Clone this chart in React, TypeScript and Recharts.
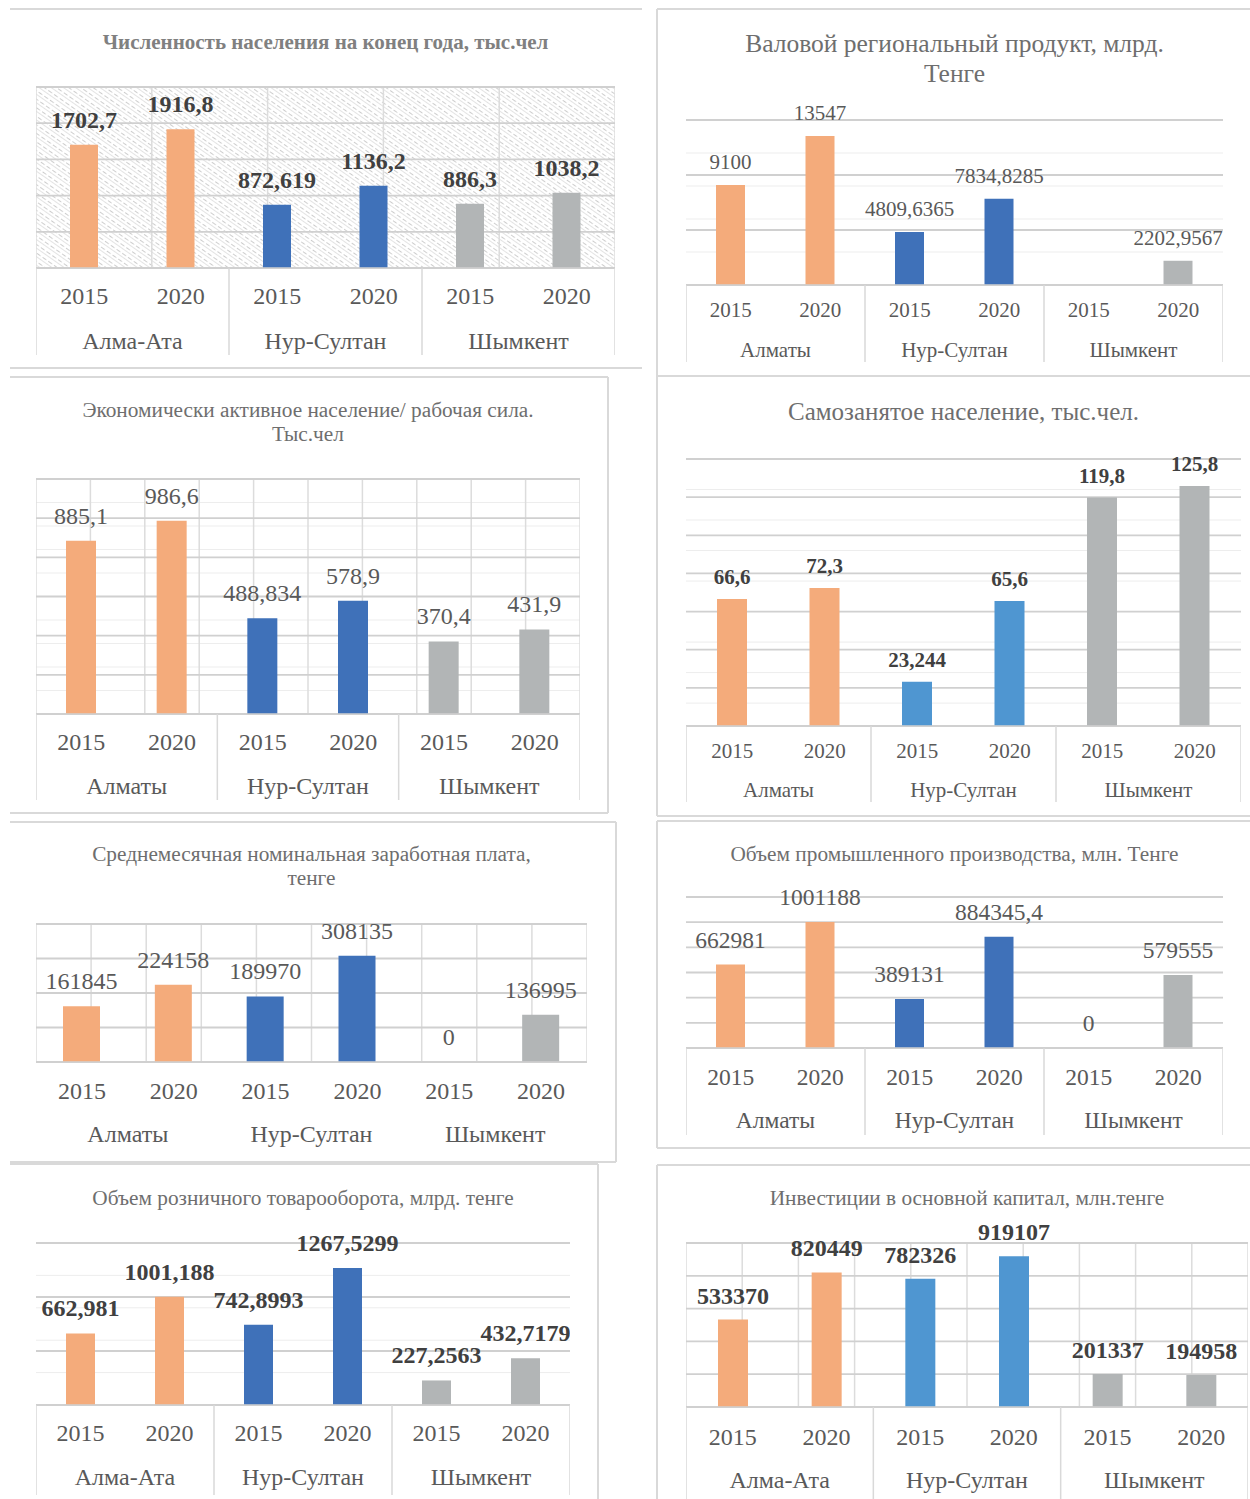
import React from 'react';
import { BarChart, Bar, XAxis, YAxis, CartesianGrid, Cell, LabelList } from 'recharts';

// ---------- data ----------
const YEARS = ['2015', '2020'];
const CITIES_ALMA_ATA = ['Алма-Ата', 'Нур-Султан', 'Шымкент'];
const CITIES_ALMATY = ['Алматы', 'Нур-Султан', 'Шымкент'];

const populationValues = [1702.7, 1916.8, 872.619, 1136.2, 886.3, 1038.2];
const grpValues = [9100, 13547, 4809.6365, 7834.8285, null, 2202.9567];
const laborValues = [885.1, 986.6, 488.834, 578.9, 370.4, 431.9];
const selfEmployedValues = [66.6, 72.3, 23.244, 65.6, 119.8, 125.8];
const salaryValues = [161845, 224158, 189970, 308135, 0, 136995];
const industryValues = [662981, 1001188, 389131, 884345.4, 0, 579555];
const retailValues = [662.981, 1001.188, 742.8993, 1267.5299, 227.2563, 432.7179];
const investValues = [533370, 820449, 782326, 919107, 201337, 194958];

const TITLES = {
  population: ['Численность населения на конец года, тыс.чел'],
  grp: ['Валовой региональный продукт, млрд.', 'Тенге'],
  labor: ['Экономически активное население/ рабочая сила.', 'Тыс.чел'],
  selfEmployed: ['Самозанятое население, тыс.чел.'],
  salary: ['Среднемесячная номинальная заработная плата,', 'тенге'],
  industry: ['Объем промышленного производства, млн. Тенге'],
  retail: ['Объем розничного товарооборота, млрд. тенге'],
  invest: ['Инвестиции в основной капитал, млн.тенге'],
};

// ---------- styles ----------
const ORANGE = '#F4AB7B';
const BLUE = '#3F71B9';
const LIGHT_BLUE = '#4F96D1';
const GRAY = '#B2B5B6';
const FONT = "'Liberation Serif', 'Times New Roman', serif";
const TEXT = '#595959';
const FRAME = '#d9d9d9';

function buildRows(cities: string[], values: (number | null)[]) {
  const rows: { key: string; city: string; year: string; value: number | null; ci: number }[] = [];
  cities.forEach((city, ci) => {
    YEARS.forEach((year, yi) => {
      rows.push({ key: `${city}|${year}`, city, year, value: values[ci * 2 + yi], ci });
    });
  });
  return rows;
}

function steps(max: number, step: number) {
  const out: number[] = [];
  for (let i = 0; i <= Math.round(max / step); i++) out.push(i * step);
  return out;
}

const fmt = (v: any) => (v === null || v === undefined ? '' : String(v).replace('.', ','));

type Cfg = {
  id: string;
  title: string[];
  titleSize: number;
  titleBold?: boolean;
  titleY: number;
  titleLH: number;
  cities: string[];
  values: (number | null)[];
  left: number;
  width: number;
  plotTop: number;
  plotH: number;
  yMax: number;
  major: number;
  minor?: number;
  vgrid: 'none' | 'boundary' | 'half';
  pattern?: boolean;
  dividers: boolean;
  yearDy: number;
  cityDy: number;
  divLen: number;
  tickFont: number;
  labelFont: number;
  labelGap: number; // distance from bar top to label centre
  bold: boolean;
  barSize: number;
  nurColor: string;
};

const MT = 40;

const CHARTS: Cfg[] = [
  {
    id: 'c1', title: TITLES.population, titleSize: 21, titleBold: true, titleY: 42, titleLH: 24,
    cities: CITIES_ALMA_ATA, values: populationValues,
    left: 36, width: 579, plotTop: 87, plotH: 181, yMax: 2500, major: 500,
    vgrid: 'boundary', pattern: true, dividers: true, yearDy: 28, cityDy: 73, divLen: 87,
    tickFont: 24, labelFont: 24, labelGap: 25, bold: true, barSize: 28, nurColor: BLUE,
  },
  {
    id: 'c2', title: TITLES.grp, titleSize: 25.5, titleY: 44, titleLH: 30,
    cities: CITIES_ALMATY, values: grpValues,
    left: 686, width: 537, plotTop: 120, plotH: 165, yMax: 15000, major: 5000, minor: 1000,
    vgrid: 'none', dividers: true, yearDy: 25, cityDy: 65, divLen: 77,
    tickFont: 21, labelFont: 21, labelGap: 23, bold: false, barSize: 29, nurColor: BLUE,
  },
  {
    id: 'c3', title: TITLES.labor, titleSize: 21.3, titleY: 410, titleLH: 24,
    cities: CITIES_ALMATY, values: laborValues,
    left: 36, width: 544, plotTop: 479, plotH: 235, yMax: 1200, major: 200, minor: 40,
    vgrid: 'half', dividers: true, yearDy: 28, cityDy: 72, divLen: 86,
    tickFont: 24, labelFont: 24, labelGap: 25, bold: false, barSize: 30, nurColor: BLUE,
  },
  {
    id: 'c4', title: TITLES.selfEmployed, titleSize: 25, titleY: 412, titleLH: 26,
    cities: CITIES_ALMATY, values: selfEmployedValues,
    left: 686, width: 555, plotTop: 459, plotH: 267, yMax: 140, major: 20, minor: 4,
    vgrid: 'none', dividers: true, yearDy: 25, cityDy: 64, divLen: 76,
    tickFont: 21, labelFont: 21, labelGap: 22, bold: true, barSize: 30, nurColor: LIGHT_BLUE,
  },
  {
    id: 'c5', title: TITLES.salary, titleSize: 21.3, titleY: 854, titleLH: 24,
    cities: CITIES_ALMATY, values: salaryValues,
    left: 36, width: 551, plotTop: 924, plotH: 138, yMax: 400000, major: 100000,
    vgrid: 'half', dividers: false, yearDy: 29, cityDy: 72, divLen: 0,
    tickFont: 24, labelFont: 24, labelGap: 25, bold: false, barSize: 37, nurColor: BLUE,
  },
  {
    id: 'c6', title: TITLES.industry, titleSize: 21.3, titleY: 854, titleLH: 24,
    cities: CITIES_ALMATY, values: industryValues,
    left: 686, width: 537, plotTop: 897, plotH: 151, yMax: 1200000, major: 200000, minor: 40000,
    vgrid: 'none', dividers: true, yearDy: 29, cityDy: 72, divLen: 87,
    tickFont: 23.5, labelFont: 23.5, labelGap: 25, bold: false, barSize: 29, nurColor: BLUE,
  },
  {
    id: 'c7', title: TITLES.retail, titleSize: 21.3, titleY: 1198, titleLH: 24,
    cities: CITIES_ALMA_ATA, values: retailValues,
    left: 36, width: 534, plotTop: 1243, plotH: 162, yMax: 1500, major: 500, minor: 100,
    vgrid: 'none', dividers: true, yearDy: 28, cityDy: 72, divLen: 90,
    tickFont: 24, labelFont: 24, labelGap: 25, bold: true, barSize: 29, nurColor: BLUE,
  },
  {
    id: 'c8', title: TITLES.invest, titleSize: 21.3, titleY: 1198, titleLH: 24,
    cities: CITIES_ALMA_ATA, values: investValues,
    left: 686, width: 562, plotTop: 1243, plotH: 164, yMax: 1000000, major: 200000,
    vgrid: 'half', dividers: true, yearDy: 30, cityDy: 73, divLen: 92,
    tickFont: 24, labelFont: 24, labelGap: 24, bold: true, barSize: 30, nurColor: LIGHT_BLUE,
  },
];

function MultiTick(props: any) {
  const { x, y, payload, index, cfg } = props;
  const [city, year] = String(payload.value).split('|');
  const bw = cfg.width / 6;
  return (
    <g>
      <text x={x} y={y + cfg.yearDy} textAnchor="middle" dominantBaseline="central"
        fontSize={cfg.tickFont} fill={TEXT} style={{ fontFamily: FONT }}>{year}</text>
      {index % 2 === 0 && (
        <text x={x + bw / 2} y={y + cfg.cityDy} textAnchor="middle" dominantBaseline="central"
          fontSize={cfg.tickFont} fill={TEXT} style={{ fontFamily: FONT }}>{city}</text>
      )}
      {cfg.dividers && index % 2 === 0 && (
        <line x1={x - bw / 2} x2={x - bw / 2} y1={y} y2={y + cfg.divLen} stroke={FRAME} strokeWidth={1.5} />
      )}
      {cfg.dividers && index === 5 && (
        <line x1={x + bw / 2} x2={x + bw / 2} y1={y} y2={y + cfg.divLen} stroke={FRAME} strokeWidth={1.5} />
      )}
    </g>
  );
}

function makeLabel(cfg: Cfg) {
  return (p: any) => {
    const vb = p.viewBox || {};
    const bx = Number(vb.x ?? p.x);
    const by = Number(vb.y ?? p.y);
    const bwid = Number(vb.width ?? p.width);
    const bh = Number(vb.height ?? p.height ?? 0);
    const v = p.value;
    if (v === null || v === undefined || isNaN(bx) || isNaN(by)) return null;
    const top = Math.min(by, by + bh);
    return (
      <text x={bx + bwid / 2} y={top - cfg.labelGap} textAnchor="middle" dominantBaseline="central"
        fontSize={cfg.labelFont} fill={cfg.bold ? '#404040' : TEXT}
        fontWeight={cfg.bold ? 'bold' : 'normal'} style={{ fontFamily: FONT }}>{fmt(v)}</text>
    );
  };
}

function Panel({ cfg }: { cfg: Cfg }) {
  const rows = buildRows(cfg.cities, cfg.values);
  const colors = [ORANGE, cfg.nurColor, GRAY];
  const xH = Math.max(cfg.divLen, cfg.cityDy + 16) + 4;
  const height = MT + cfg.plotH + xH;
  const majorTicks = steps(cfg.yMax, cfg.major);
  const minorTicks = cfg.minor ? steps(cfg.yMax, cfg.minor) : [];
  const vTicks = cfg.vgrid === 'half' ? steps(6, 0.5) : steps(6, 1);
  const patId = `hatch-${cfg.id}`;
  return (
    <>
      <div
        style={{
          position: 'absolute', left: cfg.left - 60, width: cfg.width + 120,
          top: cfg.titleY - cfg.titleLH / 2, lineHeight: `${cfg.titleLH}px`,
          fontSize: cfg.titleSize, fontFamily: FONT, color: cfg.titleBold ? '#808080' : '#6e6e6e',
          fontWeight: cfg.titleBold ? 'bold' : 'normal', textAlign: 'center', whiteSpace: 'nowrap',
        }}
      >
        {cfg.title.map((t, i) => (<div key={i}>{t}</div>))}
      </div>
      <div style={{ position: 'absolute', left: cfg.left, top: cfg.plotTop - MT }}>
        <BarChart width={cfg.width} height={height} data={rows}
          margin={{ top: MT, right: 0, bottom: 0, left: 0 }}>
          <defs>
            <pattern id={patId} width="7" height="7" patternUnits="userSpaceOnUse" patternTransform="rotate(35)">
              <rect width="7" height="7" fill="#ffffff" />
              <line x1="0" y1="0" x2="4.5" y2="0" stroke="#c4c4c4" strokeWidth="1.7" />
              <line x1="0" y1="3.5" x2="7" y2="3.5" stroke="#e3e3e3" strokeWidth="1" />
            </pattern>
          </defs>
          <XAxis xAxisId="c" dataKey="key" interval={0} tickLine={false} tickSize={0} tickMargin={0}
            height={xH} axisLine={{ stroke: '#d0d0d0', strokeWidth: 1.5 }}
            tick={(p: any) => <MultiTick {...p} cfg={cfg} />} />
          <XAxis xAxisId="g" type="number" domain={[0, 6]} ticks={vTicks} allowDataOverflow hide />
          <YAxis yAxisId="major" domain={[0, cfg.yMax]} ticks={majorTicks} allowDataOverflow hide />
          <YAxis yAxisId="minor" domain={[0, cfg.yMax]} ticks={minorTicks.length ? minorTicks : majorTicks} allowDataOverflow hide />
          {cfg.pattern && (
            <CartesianGrid xAxisId="g" yAxisId="major" horizontal={false} vertical={false}
              fill={`url(#${patId})`} fillOpacity={1} />
          )}
          {cfg.minor && (
            <CartesianGrid xAxisId="g" yAxisId="minor" vertical={false} stroke="#ededed" strokeWidth={1} />
          )}
          {cfg.vgrid !== 'none' && (
            <CartesianGrid xAxisId="g" yAxisId="major" horizontal={false} stroke="#dcdcdc" strokeWidth={1.5} />
          )}
          <CartesianGrid xAxisId="g" yAxisId="major" vertical={false} stroke="#d0d0d0" strokeWidth={1.8} />
          <Bar dataKey="value" xAxisId="c" yAxisId="major" barSize={cfg.barSize} minPointSize={0.05}
            isAnimationActive={false}>
            {rows.map((r, i) => (<Cell key={i} fill={colors[r.ci]} />))}
            <LabelList dataKey="value" content={makeLabel(cfg)} />
          </Bar>
        </BarChart>
      </div>
    </>
  );
}

function HLine({ x1, x2, y }: { x1: number; x2: number; y: number }) {
  return <div style={{ position: 'absolute', left: x1, top: y - 1, width: x2 - x1, height: 2, background: FRAME }} />;
}
function VLine({ x, y1, y2 }: { x: number; y1: number; y2: number }) {
  return <div style={{ position: 'absolute', left: x - 1, top: y1, width: 2, height: y2 - y1, background: FRAME }} />;
}

export default function App() {
  return (
    <div style={{ position: 'absolute', left: 0, top: 0, width: 1250, height: 1499, background: '#fff', overflow: 'hidden', fontFamily: FONT }}>
      <HLine x1={10} x2={642} y={9} />
      <HLine x1={10} x2={642} y={368} />
      <VLine x={657} y1={9} y2={377} />
      <HLine x1={657} x2={1250} y={9} />
      <HLine x1={657} x2={1250} y={376} />
      <HLine x1={10} x2={608} y={377} />
      <VLine x={608} y1={377} y2={813} />
      <HLine x1={10} x2={608} y={813} />
      <VLine x={657} y1={377} y2={816} />
      <HLine x1={657} x2={1250} y={816} />
      <HLine x1={10} x2={616} y={822} />
      <VLine x={616} y1={822} y2={1162} />
      <HLine x1={10} x2={616} y={1162} />
      <HLine x1={657} x2={1250} y={821} />
      <VLine x={657} y1={821} y2={1148} />
      <HLine x1={657} x2={1250} y={1148} />
      <HLine x1={10} x2={598} y={1164} />
      <VLine x={598} y1={1164} y2={1499} />
      <HLine x1={657} x2={1250} y={1165} />
      <VLine x={657} y1={1165} y2={1499} />
      {CHARTS.map((c) => (<Panel key={c.id} cfg={c} />))}
    </div>
  );
}
